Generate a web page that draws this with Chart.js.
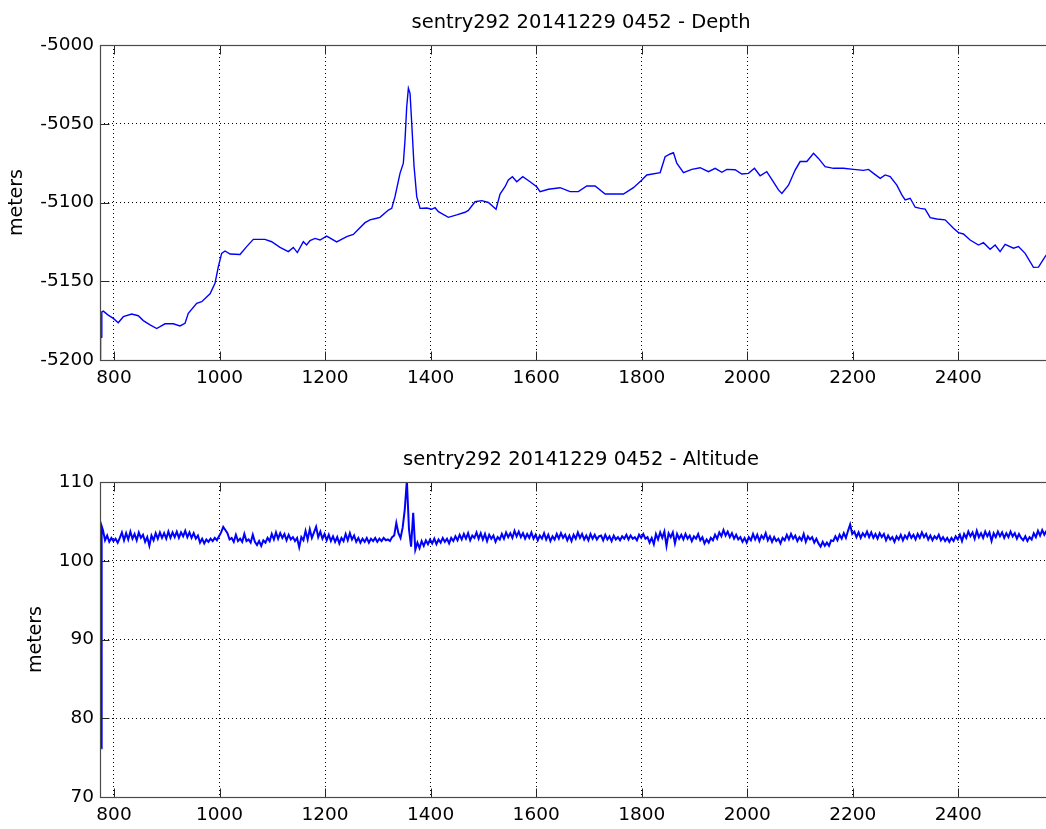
<!DOCTYPE html>
<html>
<head>
<meta charset="utf-8">
<script src="https://cdn.jsdelivr.net/npm/chart.js@4/dist/chart.umd.min.js"></script>
<style>
  html, body { margin: 0; padding: 0; background: #fff; }
  #page { position: relative; width: 1046px; height: 829px; overflow: hidden; background: #fff; }
  #depthChart { position: absolute; left: 0; top: 0; }
  #altChart { position: absolute; left: 0; top: 400px; }
</style>
</head>
<body>
<div id="page">
  <canvas id="depthChart" width="1080" height="400"></canvas>
  <canvas id="altChart" width="1080" height="429"></canvas>
</div>
<script>
// ---- Dive sentry292, 2014-12-29 04:52 ----
const depthTitle = 'sentry292 20141229 0452 - Depth';
const altTitle = 'sentry292 20141229 0452 - Altitude';
const yLabel = 'meters';

// time axis
const timeMin = 773.47;
const timeMax = 2596.5;
const timeTicks = [800, 1000, 1200, 1400, 1600, 1800, 2000, 2200, 2400];

// depth axis
const depthMin = -5200, depthMax = -5000, depthStep = 50;
// altitude axis
const altMin = 70, altMax = 110, altStepTick = 10;

// vehicle depth (m) against time
const depthTime = [
  773.6, 774.5, 776.5, 776.9, 779.8, 789, 798.7, 808, 817.7, 833.5,
  846, 855.6, 868.3, 880.9, 896.7, 912.4, 925, 934.6, 940.8, 956.7,
  966.2, 982, 991.4, 997.7, 1004, 1010.4, 1019.9, 1038.8, 1051.4, 1064,
  1086, 1098.8, 1114.6, 1130.4, 1139.8, 1147.4, 1158.8, 1165, 1171.5, 1181,
  1190.4, 1203, 1222, 1241, 1253.5, 1275.7, 1285, 1297.8, 1304, 1320,
  1326.3, 1332.5, 1342, 1348.3, 1351.5, 1354.7, 1357.9, 1361, 1364.2, 1368.6,
  1373.7, 1380, 1392.7, 1402, 1408.4, 1414.7, 1433.6, 1449.5, 1465.2, 1471.5,
  1484.2, 1496.8, 1509.5, 1524, 1531.6, 1541, 1547.3, 1555, 1563.2, 1574.6,
  1588.5, 1601, 1607.4, 1623.2, 1645.4, 1664.3, 1680, 1696, 1711.7, 1730.7,
  1765.4, 1784.4, 1800.3, 1809.7, 1835, 1844.4, 1853.9, 1860.2, 1866.5, 1879.2,
  1895, 1910.8, 1926.5, 1939.2, 1951.9, 1961.3, 1977, 1989.7, 2002.3, 2013.7,
  2024.4, 2037, 2046.5, 2059.2, 2065.6, 2078.2, 2090.8, 2100.3, 2113, 2125.6,
  2135, 2147.6, 2163.4, 2182.4, 2201.4, 2220.3, 2229.8, 2239.3, 2252, 2261.4,
  2270.9, 2283.5, 2293, 2299.3, 2308.8, 2318.3, 2327.8, 2337.2, 2346.7, 2359.3,
  2375, 2390.8, 2400.3, 2409.7, 2422.4, 2438.2, 2447.6, 2460.3, 2469.8, 2479.2,
  2488.7, 2504.5, 2514, 2526.6, 2542.4, 2551.9, 2564.5, 2572
];
const depthValue = [
  -5199, -5186, -5185.5, -5169.5, -5169, -5171.5, -5173.6, -5176.3, -5172.5, -5170.8,
  -5171.9, -5175, -5177.7, -5180, -5177, -5177, -5178.4, -5176.7, -5170.4, -5164,
  -5163, -5158, -5151.3, -5140.8, -5132.3, -5130.8, -5132.7, -5133, -5128, -5123.4,
  -5123.4, -5124.9, -5128.5, -5131.2, -5128.5, -5131.8, -5124.9, -5127, -5124.2, -5122.8,
  -5123.8, -5121.3, -5125, -5121.7, -5120.3, -5112.8, -5111, -5110, -5109.4, -5104.8,
  -5103.7, -5096.3, -5081.5, -5075, -5060.3, -5039.2, -5027.5, -5030.7, -5049.7, -5077,
  -5096.3, -5103.7, -5103.5, -5104.3, -5103.3, -5105.8, -5109.4, -5107.9, -5106.2, -5105,
  -5099.5, -5098.8, -5100, -5104.3, -5094.6, -5090, -5085.7, -5083.6, -5086.8, -5083.6,
  -5086.8, -5090, -5093.1, -5091.6, -5090.6, -5093.1, -5093.1, -5089.5, -5089.5, -5094.6,
  -5094.6, -5090.6, -5085.7, -5082.5, -5081, -5070.9, -5069.2, -5068.4, -5075, -5081,
  -5079, -5077.9, -5080.4, -5078.3, -5080.8, -5079, -5079.2, -5081.9, -5081.5, -5078.3,
  -5083, -5080.4, -5085.3, -5092, -5094.2, -5089, -5079.4, -5074, -5074, -5068.8,
  -5072, -5077.2, -5078.3, -5078.3, -5079, -5079.6, -5079, -5081.5, -5084.7, -5082.5,
  -5083.6, -5089, -5095.2, -5098.4, -5097.3, -5103, -5103.7, -5104.2, -5109.6, -5110.5,
  -5111, -5116.4, -5119.1, -5120, -5123.8, -5127, -5125.5, -5129.7, -5127, -5131.2,
  -5126.6, -5129, -5128, -5132.3, -5141.2, -5141, -5134.4, -5131
];

// altimeter: first returns while the sonar locks on
const altLeadTime = [775.8, 776.2, 776.6, 777.0];
const altLeadValue = [76.2, 89.5, 86.8, 104.4];
// altimeter: regular samples from altStart, one every altStep
const altStart = 779, altStep = 4;
const altValue = [
  103.9, 102.6, 103.2, 102.4, 102.9, 102.5, 102.8, 102.3, 102.9,
  103.6, 102.6, 103.5, 102.7, 103.7, 102.8, 103.4, 102.6, 103.6, 102.9,
  103.3, 102.4, 103.0, 101.9, 103.2, 102.6, 103.5, 102.8, 103.6, 102.9,
  103.5, 102.8, 103.7, 102.9, 103.6, 103.0, 103.7, 102.9, 103.6, 103.1,
  103.8, 103.0, 103.6, 102.9, 103.5, 102.8, 103.2,
  102.3, 102.8, 102.2, 102.7, 102.4, 102.8, 102.5, 102.9, 102.6, 103.1,
  103.6, 104.3, 103.9, 103.5, 102.7,
  102.9, 102.4, 103.3, 102.5, 102.8, 102.4, 103.4, 102.5, 102.7, 102.3, 103.3, 102.4,
  102.0, 102.5, 101.9, 102.6, 102.3,
  102.9, 102.5, 103.4, 102.7, 103.6, 102.8, 103.5, 102.9, 103.4, 102.6, 103.3, 102.7, 103.0, 102.5, 102.9,
  101.7, 103.0, 102.6, 103.8, 102.7, 104.0, 102.9, 103.6, 104.3, 103.0, 103.7, 102.8, 103.4,
  102.6, 103.3, 102.5, 103.1, 102.4, 103.0, 102.2, 102.9, 102.5, 103.4,
  102.6, 103.5, 102.7, 103.2, 102.4, 102.9, 102.3, 102.8, 102.4, 102.9,
  102.3, 102.8, 102.5, 102.9, 102.4, 102.8, 102.5, 102.9, 102.6, 102.7,
  102.5, 103.0,
  103.2, 104.8, 103.5, 102.9, 104.2, 106.5, 110.2, 104.0, 101.8, 106.1,
  101.4, 102.3, 101.6, 102.5, 101.9, 102.6, 102.1, 102.7,
  102.2, 102.8, 102.1, 102.7, 102.3, 102.9, 102.4, 102.8, 102.2, 102.9, 102.5, 103.1, 102.6,
  103.3, 102.7, 103.4, 102.8, 103.5, 102.6, 103.2, 102.9, 103.6, 102.8,
  103.5, 102.7, 103.4, 102.5, 103.3, 102.8, 103.2, 102.4, 103.0, 102.7,
  103.4, 102.8, 103.6, 103.0, 103.5, 102.9, 103.8, 103.1, 103.7, 103.0,
  103.5, 102.8, 103.4, 102.9, 103.6, 102.8, 103.3, 102.6, 103.2, 102.8,
  103.5, 102.7, 103.3, 102.5, 103.1, 102.7, 103.4, 102.8, 103.5, 102.9,
  103.3, 102.6, 103.2, 102.5, 103.3, 102.8, 103.6, 102.9, 103.4, 102.7,
  103.2, 102.6, 103.4, 102.8, 103.3, 102.7, 103.1,
  103.2, 102.6, 103.3, 102.7, 103.1, 102.5, 103.2, 102.7, 103.0, 102.6,
  103.1, 102.8, 103.3, 102.7, 103.2, 102.8, 103.0, 102.6, 103.3, 102.9,
  103.4, 102.8, 103.0, 102.3, 102.9, 102.1, 103.4, 102.7,
  103.6, 102.9, 103.7, 101.9, 103.5, 103.0, 103.6, 102.2, 103.4, 102.8,
  103.3, 102.7, 103.4, 102.8, 103.2, 102.5, 103.1, 102.8, 103.4, 102.6,
  103.0, 102.2, 102.7, 102.3, 102.9, 102.6, 103.3, 102.8, 103.6, 103.1,
  103.9, 103.2, 103.7, 103.0, 103.5, 102.8, 103.3, 102.7, 103.0, 102.4,
  102.9, 102.3, 103.0, 102.6, 103.4, 102.7, 103.3, 102.5, 103.2, 102.8,
  103.5, 102.6, 103.1, 102.4, 103.0, 102.5, 102.8, 102.2, 102.9, 102.6,
  103.3, 102.7, 103.4, 102.8, 103.2, 102.5, 103.0, 102.6, 103.4, 102.4,
  103.1, 102.7, 103.0, 102.3, 102.8,
  102.2, 101.8, 102.4, 101.9, 102.3, 101.9, 102.6,
  102.5, 103.1, 102.6, 103.3, 102.8, 103.5, 102.9, 103.8, 104.6, 103.4,
  103.7, 103.0, 103.6, 102.9, 103.5, 103.1, 103.7, 103.0, 103.6, 102.9,
  103.4, 102.8, 103.5, 103.0, 103.4, 102.6, 103.2, 102.7,
  103.0, 102.4, 103.1, 102.7, 103.3, 102.6, 103.2, 102.8, 103.5, 102.9,
  103.3, 102.7, 103.4, 102.9, 103.6, 103.0, 103.4, 102.7, 103.2, 102.6,
  103.1, 102.8, 103.3, 102.6, 103.0, 102.5, 102.9, 102.4, 102.9, 102.5,
  103.1, 102.7, 103.3, 102.5,
  103.4, 102.9, 103.7, 103.1, 103.6, 102.8, 103.8, 103.0, 103.5, 102.9,
  103.7, 103.1, 103.6, 102.5, 103.5, 103.0, 103.7, 103.1, 103.6, 102.9,
  103.5, 103.0, 103.7, 103.1, 103.5, 102.8, 103.4, 102.9,
  102.6, 103.1, 102.5, 103.0, 102.7, 103.5, 103.0, 103.8, 103.2, 103.9,
  103.3, 103.8
];

const depthPoints = depthTime.map((t, i) => ({ x: t, y: depthValue[i] }));
const altPoints = altLeadTime.map((t, i) => ({ x: t, y: altLeadValue[i] }))
  .concat(altValue.map((v, i) => ({ x: altStart + i * altStep, y: v })));

Chart.defaults.font.family = '"DejaVu Sans", sans-serif';
Chart.defaults.color = '#000';

// box around the plot area, inward tick marks and the panel title
const framePlugin = {
  id: 'frame',
  afterDatasetsDraw(chart, args, opts) {
    const { ctx, chartArea: a } = chart;
    const xs = chart.scales.x, ys = chart.scales.y;
    const L = Math.round(a.left) + 0.5, R = Math.round(a.right) + 0.5;
    const T = Math.round(a.top) + 0.5, B = Math.round(a.bottom) + 0.5;
    const len = 9;
    ctx.save();
    ctx.lineWidth = 1;
    ctx.strokeStyle = '#262626';
    ctx.beginPath();
    xs.ticks.forEach(t => {
      const p = Math.round(xs.getPixelForValue(t.value)) + 0.5;
      ctx.moveTo(p, B); ctx.lineTo(p, B - len);
      ctx.moveTo(p, T); ctx.lineTo(p, T + len);
    });
    ys.ticks.forEach(t => {
      const p = Math.round(ys.getPixelForValue(t.value)) + 0.5;
      ctx.moveTo(L, p); ctx.lineTo(L + len, p);
      ctx.moveTo(R, p); ctx.lineTo(R - len, p);
    });
    ctx.stroke();
    ctx.strokeStyle = '#4a4a4a';
    ctx.lineWidth = 1.2;
    ctx.strokeRect(L, T, R - L, B - T);
    ctx.fillStyle = '#000';
    ctx.font = '19.5px "DejaVu Sans"';
    ctx.textAlign = 'center';
    ctx.textBaseline = 'alphabetic';
    ctx.fillText(opts.title, (a.left + a.right) / 2, a.top - 17);
    ctx.restore();
  }
};

function makePanel(canvas, points, title, yMin, yMax, yStep, pad, yAxisWidth, xAxisHeight, lineWidth) {
  return new Chart(canvas, {
    type: 'line',
    data: {
      datasets: [{
        data: points,
        borderColor: '#0000ff',
        borderWidth: lineWidth,
        pointRadius: 0,
        tension: 0,
        fill: false
      }]
    },
    options: {
      responsive: false,
      animation: false,
      devicePixelRatio: 1,
      layout: { padding: pad },
      plugins: {
        legend: { display: false },
        tooltip: { enabled: false },
        title: { display: false },
        frame: { title: title }
      },
      scales: {
        x: {
          type: 'linear',
          min: timeMin,
          max: timeMax,
          afterBuildTicks: s => { s.ticks = timeTicks.map(v => ({ value: v })); },
          afterFit: s => { s.height = xAxisHeight; },
          ticks: {
            font: { size: 18.5 },
            padding: 7,
            maxRotation: 0,
            autoSkip: false,
            callback: v => String(v)
          },
          grid: { color: '#000', lineWidth: 1, drawTicks: false },
          border: { display: false, dash: [1, 3] }
        },
        y: {
          type: 'linear',
          min: yMin,
          max: yMax,
          afterFit: s => { s.width = yAxisWidth; },
          ticks: {
            stepSize: yStep,
            font: { size: 18.5 },
            padding: 6,
            callback: v => String(v)
          },
          grid: { color: '#000', lineWidth: 1, drawTicks: false },
          border: { display: false, dash: [1, 3] },
          title: {
            display: true,
            text: yLabel,
            font: { size: 19 },
            padding: 0
          }
        }
      }
    },
    plugins: [framePlugin]
  });
}

makePanel(document.getElementById('depthChart'), depthPoints, depthTitle,
  depthMin, depthMax, depthStep,
  { left: 6, top: 45, right: 18, bottom: 0 }, 94, 40, 1.4);

makePanel(document.getElementById('altChart'), altPoints, altTitle,
  altMin, altMax, altStepTick,
  { left: 25, top: 82, right: 18, bottom: 0 }, 75, 32, 2);
</script>
</body>
</html>
